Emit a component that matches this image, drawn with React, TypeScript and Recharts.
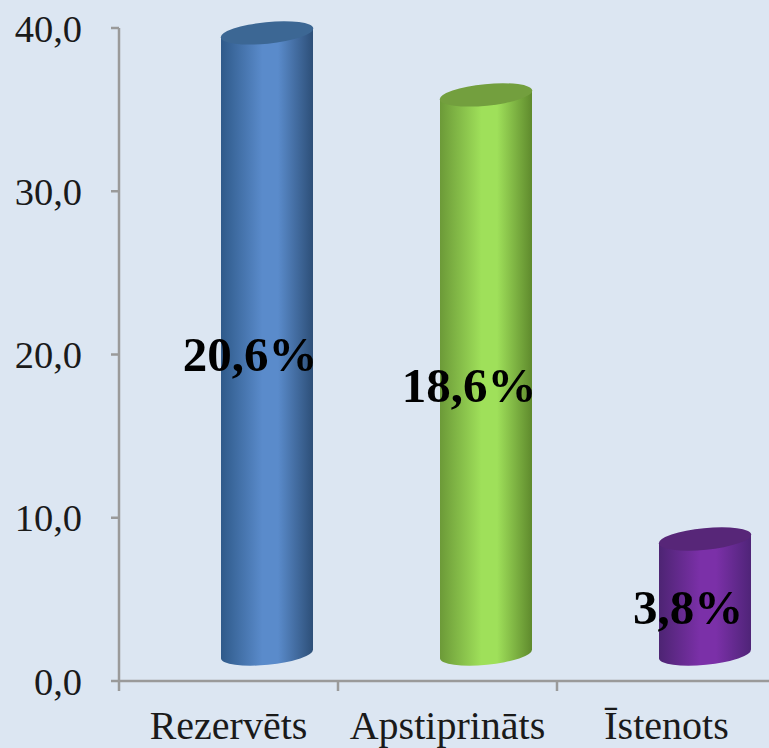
import { BarChart, Bar, XAxis, YAxis, LabelList } from 'recharts';

const categories = ['Rezervēts', 'Apstiprināts', 'Īstenots'];
const heights = [39.7, 35.9, 8.7];
const shares = ['20,6%', '18,6%', '3,8%'];
const yTicks = [0, 10, 20, 30, 40];

const gradientIds = ['cylBlue', 'cylGreen', 'cylPurple'];
const topColors = ['#3c6794', '#739f3e', '#572678'];

const data = categories.map((name, i) => ({ name, value: heights[i], share: shares[i] }));

const FONT = '"Liberation Serif", serif';
const AXIS = '#9a9a9a';

// the source chart is 3D, cylinders sit back and right of the axis
const DEPTH_X = 38;
const DEPTH_Y = 27;

function Cylinder(props: any) {
  const { x, y, width, height, index } = props;
  const cx = x + width / 2 + DEPTH_X;
  const rx = width / 2;
  const left = cx - rx;
  const right = cx + rx;
  const bottom = y + height - DEPTH_Y;
  const body = `M${left} ${y + 4.5} L${left} ${bottom + 4.5} A${rx} 10.8 -5.6 0 0 ${right} ${bottom - 4.5} L${right} ${y - 4.5} Z`;
  return (
    <g>
      <path d={body} fill={`url(#${gradientIds[index]})`} />
      <ellipse cx={cx} cy={y} rx={rx + 0.5} ry={10.8} fill={topColors[index]} transform={`rotate(-5.6 ${cx} ${y})`} />
    </g>
  );
}

function CategoryTick(props: any) {
  const { x, payload } = props;
  const step = 219;
  return (
    <g>
      <line x1={x - step / 2} x2={x - step / 2} y1={681} y2={691} stroke={AXIS} strokeWidth={2.5} />
      <text x={x} y={739} textAnchor="middle" fontFamily={FONT} fontSize={40} fill="#1a1a1a">
        {payload.value}
      </text>
    </g>
  );
}

function ShareLabel(props: any) {
  const { x, y, width, height, value } = props;
  return (
    <text
      x={x + width / 2 + 21}
      y={y + (height - DEPTH_Y) / 2 + 28}
      textAnchor="middle"
      fontFamily={FONT}
      fontWeight="bold"
      fontSize={49}
      fill="#000"
    >
      {value}
    </text>
  );
}

function Stops({ edge, mid, end }: { edge: string; mid: string; end: string }) {
  return (
    <>
      <stop offset="0%" stopColor={edge} />
      <stop offset="45%" stopColor={mid} />
      <stop offset="62%" stopColor={mid} />
      <stop offset="100%" stopColor={end} />
    </>
  );
}

export default function App() {
  return (
    <div style={{ position: 'absolute', left: 0, top: 0, width: 769, height: 748, overflow: 'hidden', background: '#dce6f2' }}>
      <BarChart width={800} height={748} data={data} margin={{ top: 28, right: 24, bottom: 0, left: 0 }} barSize={92}>
        <defs>
          <linearGradient id="cylBlue" x1="0" y1="0" x2="1" y2="0">
            <Stops edge="#2f5a8a" mid="#5a8bcb" end="#2d4f78" />
          </linearGradient>
          <linearGradient id="cylGreen" x1="0" y1="0" x2="1" y2="0">
            <Stops edge="#6c9a38" mid="#9fe05a" end="#5f8a2d" />
          </linearGradient>
          <linearGradient id="cylPurple" x1="0" y1="0" x2="1" y2="0">
            <Stops edge="#4d2473" mid="#7b30a8" end="#4f2478" />
          </linearGradient>
        </defs>
        <XAxis
          dataKey="name"
          height={67}
          tick={<CategoryTick />}
          tickLine={false}
          interval={0}
          axisLine={{ stroke: AXIS, strokeWidth: 2.5 }}
        />
        <YAxis
          width={119}
          domain={[0, 40]}
          ticks={yTicks}
          interval={0}
          tickFormatter={(v: number) => v.toFixed(1).replace('.', ',')}
          tick={{ fontFamily: FONT, fontSize: 38.5, fill: '#1a1a1a' }}
          tickSize={8}
          tickMargin={29}
          tickLine={{ stroke: AXIS, strokeWidth: 2.5 }}
          axisLine={{ stroke: AXIS, strokeWidth: 2.5 }}
        />
        <Bar dataKey="value" shape={<Cylinder />} isAnimationActive={false}>
          <LabelList dataKey="share" content={<ShareLabel />} />
        </Bar>
      </BarChart>
    </div>
  );
}
